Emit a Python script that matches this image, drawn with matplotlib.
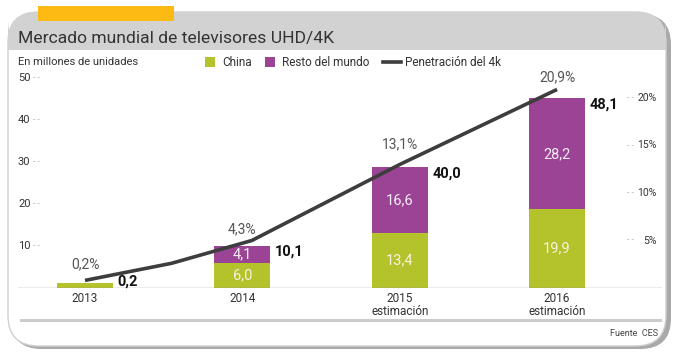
import matplotlib
matplotlib.use('Agg')
import matplotlib.pyplot as plt
from matplotlib.patches import FancyBboxPatch, Rectangle
from matplotlib.transforms import blended_transform_factory

plt.rcParams['font.family'] = ['Roboto', 'DejaVu Sans']

# datos (bar heights as drawn in the picture, labels as printed)
years = ['2013', '2014', '2015\nestimación', '2016\nestimación']
china = [1.2, 6.0, 13.0, 18.7]
resto = [0.0, 4.1, 15.8, 26.5]
china_lbl = ['', '6,0', '13,4', '19,9']
resto_lbl = ['', '4,1', '16,6', '28,2']
total_lbl = ['0,2', '10,1', '40,0', '48,1']
pen_lbl = ['0,2%', '4,3%', '13,1%', '20,9%']
pen_lbl_y = [2.5, 6.2, 15.1, 22.2]
line_x = [0, 0.55, 1.06, 2, 3]
line_y = [0.8, 2.6, 5.0, 13.0, 20.9]
left_ticks = [10, 20, 30, 40, 50]
right_ticks = [5, 10, 15, 20]

GREEN = '#b4c22b'
PURPLE = '#9b4496'
LINE = '#3d3d3d'
W, H = 680, 357


def fx(px):
    return px / W


def fy(py):
    return 1 - py / H


fig = plt.figure(figsize=(6.8, 3.57), dpi=100)
fig.patch.set_facecolor('white')
asp = W / H

# card + shadow
shadow = FancyBboxPatch((fx(11), fy(349)), (671 - 11) / W, (349 - 14) / H,
                        boxstyle='round,pad=0,rounding_size=0.045',
                        mutation_aspect=asp, transform=fig.transFigure,
                        facecolor='#a9a9a9', edgecolor='none', zorder=0)
fig.patches.append(shadow)
card = FancyBboxPatch((fx(8), fy(346)), (666 - 8) / W, (346 - 12) / H,
                      boxstyle='round,pad=0,rounding_size=0.045',
                      mutation_aspect=asp, transform=fig.transFigure,
                      facecolor='white', edgecolor='#d0d0d0', lw=1, zorder=1)
fig.patches.append(card)
header = FancyBboxPatch((fx(8), fy(50)), (666 - 8) / W, (50 - 12) / H,
                        boxstyle='round,pad=0,rounding_size=0.045',
                        mutation_aspect=asp, transform=fig.transFigure,
                        facecolor='#d2d2d2', edgecolor='none', zorder=2)
fig.patches.append(header)
fig.patches.append(Rectangle((fx(8), fy(50)), (666 - 8) / W, 18 / H,
                             transform=fig.transFigure, facecolor='#d2d2d2',
                             edgecolor='none', zorder=2))
fig.patches.append(Rectangle((fx(38), fy(21)), (174 - 38) / W, 15 / H,
                             transform=fig.transFigure, facecolor='#fdba12',
                             edgecolor='none', zorder=3))
fig.text(fx(18), fy(38), 'Mercado mundial de televisores UHD/4K', fontsize=12.6,
         color='#333333', va='center', ha='left', zorder=4)
fig.text(fx(18), fy(62), 'En millones de unidades', fontsize=8,
         color='#333333', va='center', ha='left')

# bottom rule + source
fig.patches.append(Rectangle((fx(20), fy(322)), (662 - 20) / W, 3 / H,
                             transform=fig.transFigure, facecolor='#cccccc',
                             edgecolor='none', zorder=3))
fig.text(fx(658), fy(333), 'Fuente  CES', fontsize=6.5, color='#444444',
         ha='right', va='center')

# main axes
ax = fig.add_axes([fx(18), fy(288), (662 - 18) / W, (288 - 70) / H])
ax.set_facecolor('none')
ax.set_zorder(5)
x = range(len(years))
bw = 0.356
ax.bar(x, china, bw, color=GREEN, zorder=2)
ax.bar(x, resto, bw, bottom=china, color=PURPLE, zorder=2)
ax.set_xlim(-0.426, 3.667)
ax.set_ylim(0, 218 / 4.2)
for s in ax.spines.values():
    s.set_visible(False)
ax.axhline(0, color='#999999', lw=1, zorder=3)
ax.set_yticks([])
ax.set_xticks(list(x))
ax.set_xticklabels(years, fontsize=8.5, color='#333333', linespacing=0.95)
ax.tick_params(axis='x', length=0, pad=3)

for i in x:
    top = china[i] + resto[i]
    if china_lbl[i]:
        ax.text(i, china[i] / 2, china_lbl[i], ha='center', va='center',
                color='#f4f4e0', fontsize=10.5, zorder=4)
    if resto_lbl[i]:
        ax.text(i, china[i] + resto[i] / 2, resto_lbl[i], ha='center',
                va='center', color='#f4eef4', fontsize=10.5, zorder=4)
    ax.text(i + bw / 2 + 0.03, max(top - 1.5, 1.55), total_lbl[i], ha='left',
            va='center', fontsize=10.5, fontweight='bold',
            color='#111111', zorder=4)

tr = blended_transform_factory(fig.transFigure, ax.transData)
for t in left_ticks:
    fig.text(fx(18), t, str(t), transform=tr, fontsize=8, color='#333333',
             ha='left', va='center')
    fig.text(fx(33), t, '- -', transform=tr, fontsize=6, color='#999999',
             ha='left', va='center')

ax2 = ax.twinx()
ax2.set_ylim(0, 218 / 9.5)
ax2.set_yticks([])
for s in ax2.spines.values():
    s.set_visible(False)
ax2.plot(line_x, line_y, color=LINE, lw=2.6, solid_capstyle='butt', zorder=6)
for i in x:
    ax2.text(i, pen_lbl_y[i], pen_lbl[i], ha='center', va='center',
             fontsize=10, color='#555555')

tr2 = blended_transform_factory(fig.transFigure, ax2.transData)
for t in right_ticks:
    fig.text(fx(657), t, f'{t}%', transform=tr2, fontsize=7.5, color='#333333',
             ha='right', va='center')
    fig.text(fx(627), t, '- -', transform=tr2, fontsize=6, color='#999999',
             ha='left', va='center')

# legend
fig.patches.append(Rectangle((fx(205), fy(67)), 10 / W, 10 / H,
                             transform=fig.transFigure, facecolor=GREEN,
                             edgecolor='none'))
fig.text(fx(222), fy(62), 'China', fontsize=8.5, color='#333333', va='center')
fig.patches.append(Rectangle((fx(265), fy(67)), 10 / W, 10 / H,
                             transform=fig.transFigure, facecolor=PURPLE,
                             edgecolor='none'))
fig.text(fx(282), fy(62), 'Resto del mundo', fontsize=8.5, color='#333333',
         va='center')
fig.lines.append(plt.Line2D([fx(383), fx(401)], [fy(62), fy(62)],
                            transform=fig.transFigure, color=LINE, lw=2.6))
fig.text(fx(405), fy(62), 'Penetración del 4k', fontsize=8.5, color='#333333',
         va='center')

fig.savefig('out.png', dpi=100)
